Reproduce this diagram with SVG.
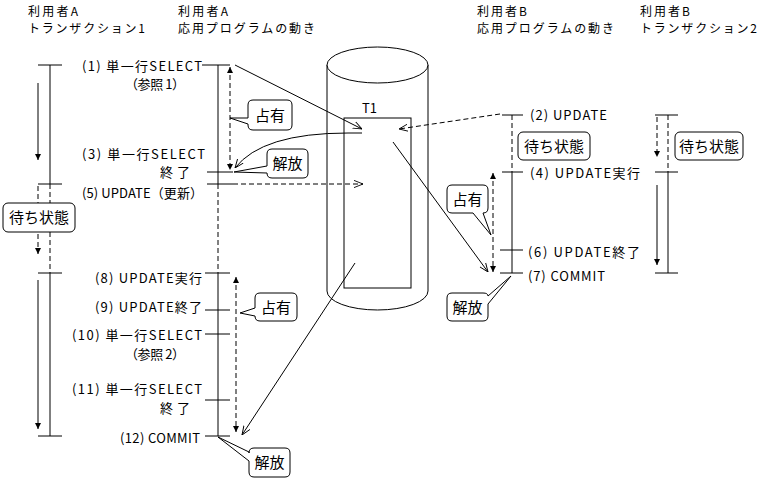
<svg xmlns="http://www.w3.org/2000/svg" width="760" height="482" viewBox="0 0 760 482">
<style>
text{font-family:"Noto Sans CJK JP","Liberation Sans",sans-serif;fill:#000}
.hd{font-size:12px}
.t1{font-size:13px}
.lb{font-size:13px}
.co{font-size:15px;text-anchor:middle}
.ln{stroke:#000;stroke-width:1;fill:none}
.ds{stroke:#000;stroke-width:1;fill:none;stroke-dasharray:5 3}
.box{fill:#fff;stroke:#000;stroke-width:1}
</style>
<defs>
<marker id="open" viewBox="0 0 10 10" refX="10" refY="5" markerWidth="9" markerHeight="9" orient="auto" markerUnits="userSpaceOnUse"><path d="M0,1 L10,5 L0,9" fill="none" stroke="#000" stroke-width="1"/></marker>
<marker id="tri" viewBox="0 0 10 10" refX="10" refY="5" markerWidth="6" markerHeight="6" orient="auto-start-reverse" markerUnits="userSpaceOnUse"><path d="M0,0 L10,5 L0,10 Z" fill="#000"/></marker>
</defs>
<rect width="760" height="482" fill="#fff"/>

<g id="headers">
<text class="hd" x="28" y="16" textLength="50">利用者A</text>
<text class="hd" x="28" y="33" textLength="117">トランザクション1</text>
<text class="hd" x="178" y="16" textLength="50">利用者A</text>
<text class="hd" x="178" y="33" textLength="137">応用プログラムの動き</text>
<text class="hd" x="477" y="16" textLength="50">利用者B</text>
<text class="hd" x="477" y="33" textLength="137">応用プログラムの動き</text>
<text class="hd" x="640" y="16" textLength="50">利用者B</text>
<text class="hd" x="640" y="33" textLength="117">トランザクション2</text>
</g>

<g id="cylinder-T1">
<path class="box" d="M327,65 V291 A50.5,19 0 0 0 428,291 V65 Z"/>
<ellipse class="box" cx="377.5" cy="65" rx="50.5" ry="18"/>
<rect class="box" x="344" y="118" width="67" height="170"/>
<text class="t1" x="362" y="113">T1</text>
</g>

<g id="lane-a-tx">
<path class="ln" d="M38,65H62 M50,65V184 M38,184H62 M38,273H62 M50,273V436 M38,436H62"/>
<path class="ds" d="M50,184V273"/>
<line class="ln" x1="38" y1="83" x2="38" y2="160" marker-end="url(#tri)"/>
<line class="ds" x1="38" y1="186" x2="38" y2="254" marker-end="url(#tri)"/>
<line class="ln" x1="38" y1="280" x2="38" y2="429" marker-end="url(#tri)"/>
</g>

<g id="lane-a-app">
<path class="ln" d="M202,65H230 M207,172H233 M207,184H233 M205,273H230 M205,310H230 M205,334H230 M205,400H230 M205,436H230 M218,65V184 M218,273V436"/>
<path class="ds" d="M218,184V273"/>
<line class="ds" x1="230" y1="67" x2="230" y2="170" marker-start="url(#tri)" marker-end="url(#tri)"/>
<line class="ds" x1="236" y1="277" x2="236" y2="432" marker-start="url(#tri)" marker-end="url(#tri)"/>
<text class="lb" x="82" y="71" textLength="120">(1) 単一行SELECT</text>
<text class="lb" x="125" y="89" textLength="60">（参照 1）</text>
<text class="lb" x="82" y="159" textLength="123">(3)  単一行SELECT</text>
<text class="lb" x="160" y="177" textLength="30">終了</text>
<text class="lb" x="82" y="198" textLength="121">(5) UPDATE（更新）</text>
<text class="lb" x="95" y="283" textLength="107">(8) UPDATE実行</text>
<text class="lb" x="95" y="312" textLength="107">(9) UPDATE終了</text>
<text class="lb" x="72" y="340" textLength="130">(10) 単一行SELECT</text>
<text class="lb" x="125" y="359" textLength="60">（参照 2）</text>
<text class="lb" x="72" y="394" textLength="130">(11) 単一行SELECT</text>
<text class="lb" x="160" y="413" textLength="30">終了</text>
<text class="lb" x="120" y="443" textLength="80">(12) COMMIT</text>
</g>

<g id="lane-b-app">
<path class="ln" d="M502,115H523 M502,172H523 M500,250H523 M500,273H523 M512,172V273"/>
<path class="ds" d="M512,115V172"/>
<line class="ds" x1="493" y1="173" x2="493" y2="272" marker-start="url(#tri)" marker-end="url(#tri)"/>
<text class="lb" x="530" y="120" textLength="77">(2) UPDATE</text>
<text class="lb" x="530" y="178" textLength="110">(4) UPDATE実行</text>
<text class="lb" x="528" y="257" textLength="112">(6) UPDATE終了</text>
<text class="lb" x="528" y="281" textLength="77">(7) COMMIT</text>
</g>

<g id="lane-b-tx">
<path class="ln" d="M655,115H678 M655,172H678 M655,273H678 M668,172V273"/>
<path class="ds" d="M668,115V172"/>
<line class="ds" x1="657" y1="117" x2="657" y2="157" marker-end="url(#tri)"/>
<line class="ln" x1="657" y1="185" x2="657" y2="265" marker-end="url(#tri)"/>
</g>

<g id="connectors">
<path class="ln" d="M235,65 L362,129" marker-end="url(#open)"/>
<path class="ln" d="M362,133 H348 Q262,133 235,168" marker-end="url(#open)"/>
<path class="ds" d="M233,184 H363" marker-end="url(#open)"/>
<path class="ds" d="M500,114 L399,129" marker-end="url(#open)"/>
<path class="ln" d="M393,142 L488,272" marker-end="url(#open)"/>
<path class="ln" d="M355,263 L242,435" marker-end="url(#open)"/>
</g>

<g id="wait-a">
<rect class="box" x="3" y="203" width="72" height="29" rx="5"/>
<text class="co" x="39" y="223">待ち状態</text>
</g>
<g id="wait-b">
<rect class="box" x="518" y="132" width="72" height="28" rx="5"/>
<text class="co" x="554" y="152">待ち状態</text>
</g>
<g id="wait-tx2">
<rect class="box" x="675" y="132" width="68" height="28" rx="5"/>
<text class="co" x="709" y="152">待ち状態</text>
</g>
<g id="lock-1">
<path class="box" d="M253,100 H287 Q292,100 292,105 V125 Q292,130 287,130 H253 Q248,130 248,125 V124 L230,118 L248,118 V105 Q248,100 253,100 Z"/>
<text class="co" x="270" y="121">占有</text>
</g>
<g id="release-1">
<path class="box" d="M272,149 H303 Q308,149 308,154 V173 Q308,178 303,178 H272 Q267,178 267,173 L234,172 L267,166 V154 Q267,149 272,149 Z"/>
<text class="co" x="287.5" y="169">解放</text>
</g>
<g id="lock-2">
<path class="box" d="M452,185 H483 Q488,185 488,190 V208 Q488,213 483,213 L491,235 L473,213 H452 Q447,213 447,208 V190 Q447,185 452,185 Z"/>
<text class="co" x="467.5" y="205">占有</text>
</g>
<g id="lock-3">
<path class="box" d="M260,293 H292 Q297,293 297,298 V316 Q297,321 292,321 H260 Q255,321 255,316 L240,313 L255,308 V298 Q255,293 260,293 Z"/>
<text class="co" x="276" y="313">占有</text>
</g>
<g id="release-2">
<path class="box" d="M452,293 H483 Q488,293 488,296 L511,276 L488,304 V316 Q488,321 483,321 H452 Q447,321 447,316 V298 Q447,293 452,293 Z"/>
<text class="co" x="467.5" y="313">解放</text>
</g>
<g id="release-3">
<path class="box" d="M254,448 H285 Q290,448 290,453 V472 Q290,477 285,477 H254 Q249,477 249,472 V461 L218,437 L249,452 V453 Q249,448 254,448 Z"/>
<text class="co" x="269.5" y="468">解放</text>
</g>
</svg>
